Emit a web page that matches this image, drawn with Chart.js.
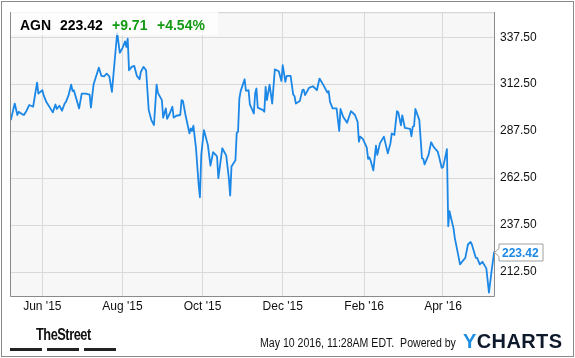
<!DOCTYPE html>
<html>
<head>
<meta charset="utf-8">
<script src="https://cdn.jsdelivr.net/npm/chart.js@4.4.1/dist/chart.umd.min.js"></script>
<style>
  body { margin: 0; background: #fff; }
  #wrap { position: relative; width: 575px; height: 358px; font-family: 'Liberation Sans', Arial, sans-serif; }
  #frame { position: absolute; left: 1px; top: 1px; width: 573px; height: 356px; box-sizing: border-box; border: 1px solid #8a8a8a; pointer-events: none; }
  #head { position: absolute; left: 11px; top: 11px; width: 207px; height: 24px; background: rgba(255,255,255,0.78); }
  .h { position: absolute; top: 6px; font-size: 14px; font-weight: bold; line-height: 16px; white-space: nowrap; }
  .foot { position: absolute; white-space: nowrap; transform-origin: left top; }
  .bar { position: absolute; top: 348px; height: 3px; background: #222; }
</style>
</head>
<body>
<div id="wrap">
  <canvas id="chart" width="575" height="358"></canvas>
  <div id="head">
    <span class="h" style="left:9px;color:#000">AGN</span>
    <span class="h" style="left:49px;color:#000">223.42</span>
    <span class="h" style="left:101px;color:#139a13">+9.71</span>
    <span class="h" style="left:146px;color:#139a13">+4.54%</span>
  </div>
  <span class="foot" style="left:36px;top:326px;font-size:16px;font-weight:bold;letter-spacing:-0.6px;color:#111;transform:scaleX(0.8)">TheStreet</span>
  <div class="bar" style="left:10px;width:32px"></div>
  <div class="bar" style="left:47px;width:32px"></div>
  <div class="bar" style="left:84px;width:32px"></div>
  <span class="foot" style="left:260px;top:336px;font-size:12px;color:#111;transform:scaleX(0.88)">May 10 2016, 11:28AM EDT.&nbsp; Powered by</span>
  <span class="foot" style="left:463px;top:330px;font-size:20px;font-weight:bold;letter-spacing:0.4px;color:#0e1a2b"><span style="color:#1e8fe6">Y</span>CHARTS</span>
  <div id="frame"></div>
</div>
<script>
// days counted from 1 Jun 2015
const days = [-24, -21, -19, -18, -15, -14, -12, -10, -7, -4, -3, 0, 1, 3, 8, 10, 11, 13, 15, 17, 18, 20, 22, 23, 24, 28, 30, 33, 36, 37, 39,
  43, 45, 47, 49, 51, 53, 55, 57, 59, 61, 63, 64, 65, 66, 68, 70, 72, 74, 75, 77, 79, 81, 83, 85, 87, 88, 91, 92, 94, 95, 97, 99, 100,
  102, 105, 106, 107, 109, 112, 113, 114, 115, 117, 119, 120, 121, 123, 126, 128, 130, 132, 133, 134, 137, 140, 142, 143, 144, 147,
  148, 149, 150, 151, 154, 155, 157, 158, 161, 162, 163, 164, 168, 169, 170, 171, 173, 175, 177, 180, 182, 183, 185, 186, 189, 191,
  192, 193, 196, 198, 199, 200, 203, 206, 209, 211, 214, 217, 218, 219, 221, 224, 226, 227, 229, 232, 235, 238, 240, 241, 242, 244,
  247, 248, 249, 250, 252, 254, 255, 257, 260, 263, 265, 266, 268, 270, 271, 273, 274, 276, 280, 281, 282, 283, 284, 287, 289, 290,
  291, 294, 296, 298, 301, 302, 304, 305, 306, 308, 309, 310, 311, 313, 314, 316, 318, 320, 322, 324, 326, 327, 330, 331, 333, 335,
  337, 338, 340, 342, 344];
const prices = [293.4, 302.2, 296.1, 297.8, 296.4, 296.1, 298.4, 301.4, 300.5, 313.3, 307.5, 309.3, 306.7, 303.1, 297.5, 301.7, 299.3,
  301.0, 298.4, 302.2, 303.1, 306.7, 312.3, 308.8, 309.3, 299.6, 307.5, 307.5, 307.0, 300.0, 312.3,
  321.3, 316.9, 316.7, 318.1, 316.7, 308.4, 324.3, 339.8, 329.2, 331.7, 335.3, 332.3, 336.7, 319.9, 321.7, 322.2, 316.9, 315.1, 319.0,
  321.7, 319.9, 298.7, 293.4, 290.8, 312.3, 307.9, 304.0, 294.7, 299.6, 294.0, 296.9, 300.5, 294.7,
  295.7, 296.1, 304.0, 303.7, 296.1, 286.3, 289.0, 287.6, 290.4, 278.4, 259.0, 252.3, 274.9, 288.1, 280.2, 269.2, 276.3, 274.9, 274.0,
  262.5, 278.4, 274.5, 262.5, 253.2, 268.7, 272.0,
  286.6, 287.2, 304.9, 308.8, 315.1, 309.0, 309.3, 301.7, 296.9, 307.5, 310.2, 300.0, 298.7, 297.8, 311.1, 304.0, 312.3, 302.2, 320.4,
  319.4, 314.2, 322.6, 313.7, 316.9, 316.9, 307.0,
  306.1, 302.2, 303.5, 309.3, 309.6, 306.7, 310.5, 311.4, 309.3, 315.5, 312.0, 308.1, 308.8, 303.1, 299.6, 299.6, 287.6, 299.3, 295.2,
  292.0, 298.2, 296.1, 292.5, 281.9, 284.6, 283.4,
  278.8, 272.8, 273.5, 271.7, 266.6, 279.8, 274.9, 281.0, 284.6, 275.7, 281.0, 286.3, 285.5, 298.2, 297.5, 290.6, 295.9, 289.2, 288.7,
  284.8, 289.9, 290.3, 299.3, 293.4, 273.1, 272.8,
  269.8, 274.9, 281.6, 279.0, 276.6, 274.0, 268.0, 268.3, 271.3, 277.9, 236.9, 244.9, 241.7, 235.9, 230.7, 223.7, 216.6, 218.4, 220.1,
  227.2, 228.6, 227.2, 220.1, 220.1, 216.6, 218.0,
  215.7, 214.5, 201.6, 213.1, 223.42];

const monthTicks = [0, 61, 122, 183, 245, 305];
const monthLabels = ["Jun '15", "Aug '15", "Oct '15", "Dec '15", "Feb '16", "Apr '16"];
const priceTicks = [212.5, 237.5, 262.5, 287.5, 312.5, 337.5];

Chart.defaults.font.family = "'Liberation Sans', Arial, sans-serif";
Chart.defaults.font.size = 12;
Chart.defaults.color = '#222';

const plotDeco = {
  id: 'plotDeco',
  beforeDraw(chart) {
    const a = chart.chartArea, ctx = chart.ctx;
    ctx.save();
    ctx.fillStyle = '#f7f7f7';
    ctx.fillRect(a.left, a.top, a.right - a.left, a.bottom - a.top);
    ctx.restore();
  },
  afterDraw(chart) {
    const a = chart.chartArea, ctx = chart.ctx;
    ctx.save();
    ctx.lineWidth = 1;
    ctx.strokeStyle = '#cfcfcf';
    ctx.beginPath();
    ctx.moveTo(a.left, a.top + 0.5); ctx.lineTo(a.right, a.top + 0.5);
    ctx.stroke();
    ctx.strokeStyle = '#8a8a8a';
    ctx.beginPath();
    ctx.moveTo(a.left + 0.5, a.top); ctx.lineTo(a.left + 0.5, a.bottom + 0.5);
    ctx.lineTo(a.right - 0.5, a.bottom + 0.5); ctx.lineTo(a.right - 0.5, a.top);
    ctx.stroke();

    // last price tag
    const last = prices[prices.length - 1];
    const y = Math.round(chart.scales.y.getPixelForValue(last)) + 0.5;
    const x0 = a.right + 4, w = 44, h = 17;
    ctx.beginPath();
    ctx.moveTo(a.right - 0.5, y);
    ctx.lineTo(x0, y - 4);
    ctx.lineTo(x0, y - h / 2);
    ctx.lineTo(x0 + w, y - h / 2);
    ctx.lineTo(x0 + w, y + h / 2);
    ctx.lineTo(x0, y + h / 2);
    ctx.lineTo(x0, y + 4);
    ctx.closePath();
    ctx.fillStyle = '#fff';
    ctx.fill();
    ctx.strokeStyle = '#a0a0a0';
    ctx.stroke();
    ctx.fillStyle = '#1b87e6';
    ctx.font = "bold 12px 'Liberation Sans', Arial, sans-serif";
    ctx.textBaseline = 'middle';
    ctx.fillText(last.toFixed(2), x0 + 3, y + 1);
    ctx.restore();
  }
};

new Chart(document.getElementById('chart'), {
  type: 'line',
  data: {
    datasets: [{
      data: days.map((d, i) => ({ x: d, y: prices[i] })),
      borderColor: '#1b87e6',
      borderWidth: 1.8,
      pointRadius: 0,
      tension: 0,
      borderJoinStyle: 'round'
    }]
  },
  options: {
    responsive: false,
    animation: false,
    devicePixelRatio: 1,
    layout: { padding: { left: 10, top: 10, right: 0, bottom: 0 } },
    plugins: { legend: { display: false }, tooltip: { enabled: false } },
    scales: {
      x: {
        type: 'linear',
        min: -24.6,
        max: 344.6,
        afterBuildTicks: s => { s.ticks = monthTicks.map(v => ({ value: v })); },
        afterFit: s => { s.height = 62; },
        ticks: { callback: (v, i) => monthLabels[i], padding: 3, maxRotation: 0, autoSkip: false, color: '#111' },
        grid: { color: '#d9d9d9', drawTicks: false },
        border: { display: false }
      },
      y: {
        position: 'right',
        min: 199.8,
        max: 350.8,
        afterBuildTicks: s => { s.ticks = priceTicks.map(v => ({ value: v })); },
        afterFit: s => { s.width = 80; },
        ticks: { callback: v => v.toFixed(2), padding: 5, color: '#111' },
        grid: { color: '#d9d9d9', drawTicks: false },
        border: { display: false }
      }
    }
  },
  plugins: [plotDeco]
});
</script>
</body>
</html>
